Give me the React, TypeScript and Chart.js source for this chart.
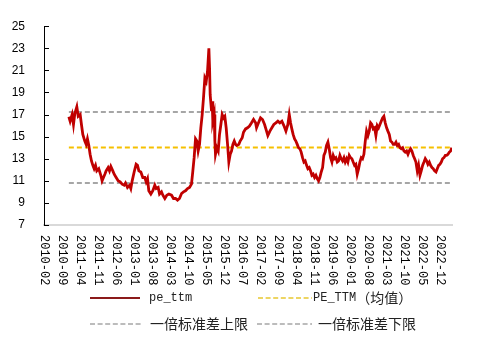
import React, { useEffect, useRef } from "react";
import { Chart, registerables } from "chart.js";

Chart.register(...registerables);

const dates: string[] = [
  "2010-11-21","2010-12-06","2010-12-29","2011-01-15","2011-02-01","2011-02-24","2011-03-10","2011-04-03","2011-04-18","2011-05-04",
  "2011-05-27","2011-06-13","2011-06-28","2011-07-14","2011-07-29","2011-08-15","2011-09-01","2011-09-16","2011-10-02","2011-10-17",
  "2011-11-10","2011-12-04","2011-12-19","2012-01-05","2012-01-21","2012-02-06","2012-02-29","2012-03-15","2012-04-01","2012-04-24",
  "2012-05-10","2012-06-03","2012-06-26","2012-07-20","2012-08-13","2012-09-06","2012-09-22","2012-10-15","2012-11-09","2012-11-24",
  "2012-12-10","2013-01-03","2013-01-26","2013-02-12","2013-02-28","2013-03-21","2013-04-14","2013-05-07","2013-05-23","2013-06-09",
  "2013-06-24","2013-07-18","2013-08-11","2013-09-04","2013-09-20","2013-10-13","2013-10-29","2013-11-22","2013-12-08","2014-01-01",
  "2014-01-24","2014-02-18","2014-03-19","2014-04-12","2014-05-06","2014-05-29","2014-06-22","2014-07-16","2014-08-09","2014-09-02",
  "2014-09-26","2014-10-19","2014-11-12","2014-11-28","2014-12-13","2014-12-29","2015-01-15","2015-01-30","2015-02-16","2015-03-01",
  "2015-03-17","2015-04-02","2015-04-18","2015-05-04","2015-05-19","2015-06-05","2015-06-13","2015-06-20","2015-07-06","2015-07-13",
  "2015-07-21","2015-08-07","2015-08-15","2015-08-22","2015-09-08","2015-09-24","2015-10-09","2015-10-25","2015-11-10","2015-11-26",
  "2015-12-11","2015-12-27","2016-01-13","2016-01-28","2016-02-14","2016-02-29","2016-03-15","2016-04-01","2016-04-16","2016-05-01",
  "2016-05-25","2016-06-10","2016-07-04","2016-07-19","2016-08-13","2016-09-06","2016-09-29","2016-10-23","2016-11-16","2016-12-10",
  "2016-12-21","2017-01-14","2017-02-08","2017-03-01","2017-03-25","2017-04-18","2017-05-03","2017-05-27","2017-06-20","2017-07-13",
  "2017-08-07","2017-08-30","2017-09-23","2017-10-17","2017-11-10","2017-12-04","2017-12-27","2018-01-13","2018-01-28","2018-02-13",
  "2018-02-28","2018-03-15","2018-03-30","2018-04-16","2018-05-01","2018-05-17","2018-06-02","2018-06-18","2018-07-04","2018-07-19",
  "2018-08-05","2018-08-20","2018-09-06","2018-09-22","2018-10-07","2018-10-22","2018-11-08","2018-11-24","2018-12-09","2018-12-25",
  "2019-01-10","2019-01-26","2019-02-12","2019-02-27","2019-03-13","2019-03-28","2019-04-14","2019-04-29","2019-05-15","2019-06-01",
  "2019-06-16","2019-07-01","2019-07-17","2019-08-03","2019-08-18","2019-09-04","2019-09-19","2019-10-05","2019-10-21","2019-11-06",
  "2019-11-22","2019-12-07","2019-12-23","2020-01-08","2020-01-24","2020-02-09","2020-02-25","2020-03-10","2020-03-26","2020-04-12",
  "2020-04-27","2020-05-13","2020-05-28","2020-06-14","2020-06-30","2020-07-15","2020-08-01","2020-08-16","2020-09-02","2020-09-17",
  "2020-10-03","2020-10-19","2020-11-04","2020-11-20","2020-12-05","2020-12-21","2021-01-06","2021-01-22","2021-02-07","2021-02-23",
  "2021-03-09","2021-03-24","2021-04-10","2021-04-25","2021-05-11","2021-05-26","2021-06-12","2021-06-28","2021-07-13","2021-07-29",
  "2021-08-14","2021-08-30","2021-09-16","2021-10-01","2021-10-16","2021-11-02","2021-11-18","2021-12-03","2021-12-19","2022-01-04",
  "2022-01-20","2022-02-06","2022-02-21","2022-03-07","2022-03-22","2022-04-08","2022-04-23","2022-05-09","2022-05-25","2022-06-10",
  "2022-06-26","2022-07-11","2022-07-27","2022-08-12","2022-08-28","2022-09-13","2022-09-29","2022-10-15","2022-10-30","2022-11-16",
  "2022-12-01","2022-12-17","2023-01-02","2023-01-18","2023-02-04","2023-02-19","2023-03-05","2023-03-21","2023-04-06","2023-04-20",
];

const peTtm: number[] = [
  16.8,16.4,17.0,16.1,17.1,17.7,16.85,17.0,16.1,15.2,
  14.6,14.3,14.8,14.2,13.4,12.8,12.4,12.1,12.4,11.9,
  12.1,11.5,11.0,11.3,11.6,11.9,12.2,11.9,12.3,11.9,
  11.6,11.3,11.0,10.9,10.7,10.6,10.8,10.4,10.6,10.3,
  11.0,11.8,12.5,12.4,11.9,11.8,11.3,11.3,10.9,11.2,
  10.1,9.8,10.1,10.6,10.3,10.4,9.8,10.0,9.7,9.4,
  9.7,9.8,9.7,9.4,9.4,9.25,9.4,9.85,10.0,10.1,
  10.3,10.4,10.7,11.9,13.1,14.8,14.6,13.7,14.3,15.8,
  17.0,18.5,20.3,20.0,20.9,23.0,21.2,18.8,17.3,18.2,
  16.4,17.0,14.6,13.4,14.0,13.7,15.2,16.1,17.0,16.7,
  16.85,15.8,14.3,12.7,13.4,13.7,14.3,14.6,14.3,14.2,
  14.3,14.6,14.9,15.4,15.7,15.8,15.96,16.25,16.55,16.25,
  15.8,16.25,16.7,16.55,16.1,15.5,15.1,15.5,15.8,16.1,
  16.25,16.4,16.25,16.4,16.0,15.5,16.1,17.0,16.25,15.7,
  15.2,14.8,14.6,14.3,14.0,13.9,13.6,13.1,12.7,12.8,
  12.4,12.1,12.2,11.9,11.5,11.6,11.3,11.5,11.2,11.0,
  11.3,11.8,12.2,13.3,13.6,14.2,14.5,13.9,13.1,12.7,
  13.3,13.0,13.1,12.7,12.8,13.3,13.0,12.8,13.1,12.7,
  13.0,12.7,13.3,13.1,13.0,12.7,12.4,12.5,11.6,12.1,
  12.7,13.1,13.0,13.4,14.6,15.5,15.1,15.5,16.25,16.1,
  15.7,15.8,15.1,16.0,15.8,16.1,16.4,16.7,16.85,16.25,
  15.8,15.5,15.2,14.6,14.5,14.3,14.3,14.5,14.2,14.3,
  14.0,13.9,14.0,13.7,13.6,13.7,13.4,13.7,13.9,13.7,
  13.3,13.0,12.7,11.9,12.4,11.5,11.9,12.4,12.7,13.0,
  12.8,12.5,12.7,12.4,12.2,12.1,11.9,11.8,12.1,12.4,
  12.5,12.7,13.0,13.1,13.3,13.3,13.4,13.6,13.7,14.0,
];

const meanValue = 14.02;
const upperValue = 17.24;
const lowerValue = 10.8;

const tickLabels: string[] = [
  "2010-02","2010-09","2011-04","2011-11","2012-06","2013-01","2013-08","2014-03",
  "2014-10","2015-05","2015-12","2016-07","2017-02","2017-09","2018-04","2018-11",
  "2019-06","2020-01","2020-08","2021-03","2021-10","2022-05","2022-12",
];
const yTicks: number[] = [7, 9, 11, 13, 15, 17, 19, 21, 23, 25];

const seriesNames = ["pe_ttm", "PE_TTM（均值）", "一倍标准差上限", "一倍标准差下限"];

function monthOffset(s: string): number {
  const parts = s.split("-").map(Number);
  const y = parts[0], m = parts[1], d = parts[2] || 1;
  return (y - 2010) * 12 + (m - 2) + (d - 1) / 30;
}

const RED = "#C00000";
const GOLD = "#F5C000";
const GRAY = "#A6A6A6";

function drawMixed(ctx: CanvasRenderingContext2D, text: string, x: number, y: number) {
  let cx = x;
  let i = 0;
  while (i < text.length) {
    const ascii = text.charCodeAt(i) < 128;
    let j = i;
    while (j < text.length && (text.charCodeAt(j) < 128) === ascii) j++;
    const run = text.slice(i, j);
    ctx.font = ascii ? '12px "Liberation Mono"' : '14px "Noto Sans CJK SC"';
    ctx.fillText(run, cx, y);
    cx += ctx.measureText(run).width;
    i = j;
  }
}

const customPlugin = {
  id: "customDecor",
  afterDraw(chart: any) {
    const ctx: CanvasRenderingContext2D = chart.ctx;
    const { left, bottom } = chart.chartArea;
    const xs = chart.scales.x;
    const ys = chart.scales.y;
    ctx.save();
    ctx.strokeStyle = "#000";
    ctx.lineWidth = 1;
    yTicks.forEach((v) => {
      const y = Math.round(ys.getPixelForValue(v)) + 0.5;
      ctx.beginPath();
      ctx.moveTo(left, y);
      ctx.lineTo(left + 5, y);
      ctx.stroke();
    });
    ctx.fillStyle = "#000";
    ctx.font = '12px "Liberation Mono"';
    ctx.textAlign = "left";
    ctx.textBaseline = "middle";
    tickLabels.forEach((lbl) => {
      const px = xs.getPixelForValue(monthOffset(lbl));
      ctx.save();
      ctx.translate(px, bottom + 10);
      ctx.rotate(Math.PI / 2);
      ctx.fillText(lbl, 0, 0);
      ctx.restore();
    });
    const items = [
      { x0: 90, x1: 140, y: 298, color: "#8B1A1A", dash: [] as number[], w: 2, tx: 149 },
      { x0: 258, x1: 312, y: 298, color: "#E8C830", dash: [5, 2.6], w: 1.5, tx: 313 },
      { x0: 90, x1: 143, y: 324, color: GRAY, dash: [5, 2.6], w: 1.5, tx: 150 },
      { x0: 257, x1: 312, y: 324, color: GRAY, dash: [5, 2.6], w: 1.5, tx: 318 },
    ];
    items.forEach((it, k) => {
      ctx.strokeStyle = it.color;
      ctx.lineWidth = it.w;
      ctx.setLineDash(it.dash);
      ctx.beginPath();
      ctx.moveTo(it.x0, it.y);
      ctx.lineTo(it.x1, it.y);
      ctx.stroke();
      ctx.setLineDash([]);
      ctx.fillStyle = "#222";
      ctx.textBaseline = "middle";
      ctx.textAlign = "left";
      drawMixed(ctx, seriesNames[k], it.tx, it.y);
    });
    ctx.restore();
  },
};

export default function App() {
  const canvasRef = useRef<HTMLCanvasElement | null>(null);

  useEffect(() => {
    document.body.style.margin = "0";
    const canvas = canvasRef.current;
    if (!canvas) return;
    const pts = dates.map((d, i) => ({ x: monthOffset(d), y: peTtm[i] }));
    const x0 = pts[0].x;
    const x1 = pts[pts.length - 1].x;
    const flat = (v: number) => [{ x: x0, y: v }, { x: x1, y: v }];
    const chart = new Chart(canvas, {
      type: "line",
      data: {
        datasets: [
          { label: seriesNames[0], data: pts, borderColor: RED, borderWidth: 2.8, pointRadius: 0, tension: 0 },
          { label: seriesNames[1], data: flat(meanValue), borderColor: GOLD, borderWidth: 2, borderDash: [5, 3], pointRadius: 0 },
          { label: seriesNames[2], data: flat(upperValue), borderColor: GRAY, borderWidth: 2, borderDash: [5, 3], pointRadius: 0 },
          { label: seriesNames[3], data: flat(lowerValue), borderColor: GRAY, borderWidth: 2, borderDash: [5, 3], pointRadius: 0 },
        ],
      },
      options: {
        animation: false,
        responsive: true,
        maintainAspectRatio: false,
        layout: { padding: { top: 24, right: 50, left: 0, bottom: 0 } },
        plugins: { legend: { display: false }, tooltip: { enabled: false } },
        scales: {
          x: {
            type: "linear",
            min: 0,
            max: 158.7,
            grid: { display: false, drawTicks: false },
            border: { display: true, color: "#D9D9D9", width: 2 },
            ticks: { display: false },
            afterFit: (s: any) => { s.height = 122; },
          },
          y: {
            min: 7,
            max: 25,
            grid: { display: false, drawTicks: false },
            border: { display: true, color: "#000", width: 1 },
            ticks: {
              stepSize: 2,
              padding: 19,
              color: "#000",
              font: { family: '"Liberation Sans", Arial', size: 12 },
            },
            afterFit: (s: any) => { s.width = 44; },
          },
        },
      },
      plugins: [customPlugin],
    });
    return () => chart.destroy();
  }, []);

  return (
    <div style={{ width: 502, height: 347, position: "relative", background: "#fff" }}>
      <canvas ref={canvasRef} />
    </div>
  );
}
